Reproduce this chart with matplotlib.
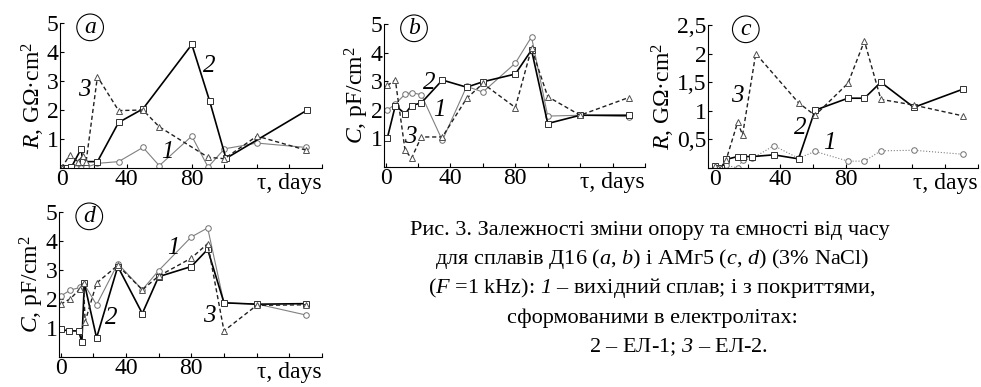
import matplotlib
matplotlib.use("Agg")
import matplotlib.pyplot as plt

plt.rcParams['font.family'] = ['Liberation Serif', 'DejaVu Serif']
plt.rcParams['mathtext.fontset'] = 'custom'
plt.rcParams['mathtext.rm'] = 'Liberation Serif'
plt.rcParams['mathtext.it'] = 'Liberation Serif:italic'
# \mathbf is used only for italic digits (mathtext 'it' keeps digits upright)
plt.rcParams['mathtext.bf'] = 'Liberation Serif:italic'
plt.rcParams['font.size'] = 17

# --- panel a: R, Д16 ---
days_a1 = [0, 6, 9, 12, 15, 22, 35, 50, 60, 80, 90, 100, 120, 150]
r_a1 = [0, 0, 0, 0, 0.02, 0.16, 0.22, 0.71, 0.08, 1.1, 0.03, 0.66, 0.86, 0.71]
days_a2 = [0, 3, 6, 12, 13, 22, 35, 50, 80, 91, 101, 151]
r_a2 = [0, 0, 0.03, 0.66, 0.22, 0.22, 1.57, 2.04, 4.26, 2.3, 0.33, 2.0]
days_a3 = [0, 5, 10, 13, 15, 22, 35, 50, 60, 90, 100, 120, 150]
r_a3 = [0, 0.45, 0.22, 0.42, 0.2, 3.15, 1.98, 2.0, 1.42, 0.37, 0.32, 1.1, 0.62]

# --- panel b: C, Д16 ---
days_b = [1, 6, 12, 16, 22, 35, 50, 60, 80, 90, 100, 120, 150]
c_b1 = [1.99, 2.2, 2.55, 2.6, 2.53, 0.93, 2.82, 2.62, 3.63, 4.55, 1.78, 1.81, 1.76]
c_b2 = [1.0, 2.15, 1.86, 2.15, 2.24, 3.04, 2.79, 2.98, 3.25, 4.09, 1.52, 1.81, 1.81]
c_b3 = [2.85, 3.04, 0.58, 0.31, 1.05, 1.05, 2.4, 2.92, 2.08, 4.15, 2.46, 1.81, 2.43]

# --- panel c: R, АМг5 ---
days_c = [0, 2, 4, 7, 14, 17, 23, 36, 51, 61, 81, 91, 101, 121, 151]
r_c1 = [0.02, 0, 0, 0.05, 0, 0.14, 0.17, 0.39, 0.17, 0.29, 0.12, 0.12, 0.3, 0.31, 0.24]
r_c2 = [0.03, 0, 0, 0.15, 0.2, 0.2, 0.2, 0.23, 0.16, 1.01, 1.22, 1.22, 1.5, 1.06, 1.38]
days_c3 = [0, 2, 4, 7, 14, 17, 25, 51, 61, 81, 91, 101, 121, 151]
r_c3 = [0.03, 0, 0, 0.14, 0.8, 0.58, 2.0, 1.14, 0.92, 1.48, 2.22, 1.2, 1.1, 0.91]

# --- panel d: C, АМг5 ---
days_d1 = [0, 6, 12, 14, 22, 35, 50, 60, 80, 90, 100, 120, 150]
c_d1 = [2.1, 2.31, 2.4, 2.55, 1.8, 3.22, 2.32, 2.98, 4.14, 4.45, 1.86, 1.83, 1.45]
days_d2 = [0, 5, 11, 13, 14.5, 22, 35, 50, 60, 80, 90, 100, 120, 150]
c_d2 = [0.95, 0.9, 0.9, 0.52, 2.55, 0.66, 3.12, 1.5, 2.77, 3.12, 3.71, 1.87, 1.82, 1.84]
days_d3 = [0, 6, 12, 14, 15, 22, 35, 50, 60, 80, 90, 100, 120, 150]
c_d3 = [1.82, 2.01, 2.36, 2.55, 1.22, 2.55, 3.16, 2.32, 2.79, 3.41, 3.91, 0.9, 1.78, 1.8]

caption = [
    "Рис. 3. Залежності зміни опору та ємності від часу",
    "для сплавів Д16 ($a$, $b$) і АМг5 ($c$, $d$) (3% NaCl)",
    "($F$ =1 kHz): $\\mathbf{1}$ – вихідний сплав; і з покриттями,",
    "сформованими в електролітах:",
    "2 – ЕЛ-1; $\\mathbf{3}$ – ЕЛ-2.",
]

W, H = 981, 387
fig = plt.figure(figsize=(W / 100, H / 100), dpi=100)


def box(l, r, b, t):
    # pixel box -> figure fraction
    return [l / W, 1 - b / H, (r - l) / W, (b - t) / H]


def style(ax, ymax, ystep, ylabels, ylabel, xmin):
    ax.set_xlim(xmin, 160)
    ax.set_ylim(0, ymax)
    for s in ['top', 'right']:
        ax.spines[s].set_visible(False)
    ax.set_xticks(range(0, 161, 20))
    ax.set_xticklabels(['0', '', '40', '', '80', '', '', '', ''])
    yt = [ystep * i for i in range(int(round(ymax / ystep)) + 1)]
    ax.set_yticks(yt)
    ax.set_yticklabels([''] + ylabels)
    ax.tick_params(direction='in', length=3, width=0.8, labelsize=17, pad=1)
    ax.set_ylabel(ylabel, fontsize=17, labelpad=0)
    ax.text(1.0, -0.035, 'τ, days', transform=ax.transAxes, ha='right', va='top', fontsize=17)


def series(ax, x, y, kind, dotted=False):
    if kind == 1:
        ax.plot(x, y, ':' if dotted else '-', color='#808080', lw=0.8, marker='o', ms=4,
                mfc='white', mec='#707070', mew=0.7)
    elif kind == 2:
        ax.plot(x, y, '-', color='black', lw=1.2, marker='s', ms=4,
                mfc='white', mec='#303030', mew=0.7)
    else:
        ax.plot(x, y, '--', color='#202020', lw=1.0, dashes=(3, 2), marker='^', ms=4,
                mfc='white', mec='#505050', mew=0.7)


def tag(ax, letter, xf):
    ax.text(xf, 0.97, letter, transform=ax.transAxes, ha='center', va='center',
            fontsize=17, fontstyle='italic',
            bbox=dict(boxstyle='circle,pad=0.12', fc='white', ec='black', lw=0.8))


def num(ax, x, y, s):
    ax.text(x, y, s, ha='center', va='center', fontsize=18, fontstyle='italic')


ylab_R = '$R$, GΩ·cm$^2$'
ylab_C = '$C$, pF/cm$^2$'

# panel a
ax = fig.add_axes(box(60, 322, 168, 23))
style(ax, 5, 1, ['1', '2', '3', '4', '5'], ylab_R, -1)
series(ax, days_a1, r_a1, 1)
series(ax, days_a2, r_a2, 2)
series(ax, days_a3, r_a3, 3)
tag(ax, 'a', 0.115)
num(ax, 91, 3.5, '2')
num(ax, 14, 2.7, '3')
num(ax, 65, 0.55, '1')

# panel b
ax = fig.add_axes(box(384, 645, 167, 24))
style(ax, 5, 1, ['1', '2', '3', '4', '5'], ylab_C, -1)
series(ax, days_b, c_b1, 1)
series(ax, days_b, c_b2, 2)
series(ax, days_b, c_b3, 3)
tag(ax, 'b', 0.115)
num(ax, 27, 2.95, '2')
num(ax, 33, 2.0, '1')
num(ax, 15, 1.05, '3')

# panel c
ax = fig.add_axes(box(708, 978, 168, 25))
style(ax, 2.5, 0.5, ['0,5', '1', '1,5', '2', '2,5'], ylab_R, -4)
series(ax, days_c, r_c1, 1, dotted=True)
series(ax, days_c, r_c2, 2)
series(ax, days_c3, r_c3, 3)
tag(ax, 'c', 0.14)
num(ax, 14, 1.25, '3')
num(ax, 52, 0.7, '2')
num(ax, 70, 0.44, '1')

# panel d
ax = fig.add_axes(box(59, 322, 357, 212))
style(ax, 5, 1, ['1', '2', '3', '4', '5'], ylab_C, -1)
series(ax, days_d1, c_d1, 1)
series(ax, days_d2, c_d2, 2)
series(ax, days_d3, c_d3, 3)
tag(ax, 'd', 0.115)
num(ax, 69, 3.75, '1')
num(ax, 31, 1.33, '2')
num(ax, 91, 1.4, '3')

# caption
cx = [650, 652, 652, 652, 679]
cy = [230, 259, 288, 318, 347]
for s, x, y in zip(caption, cx, cy):
    fig.text(x / W, 1 - y / H, s, ha='center', va='center', fontsize=16)

fig.savefig('out.png', dpi=100, facecolor='white')
